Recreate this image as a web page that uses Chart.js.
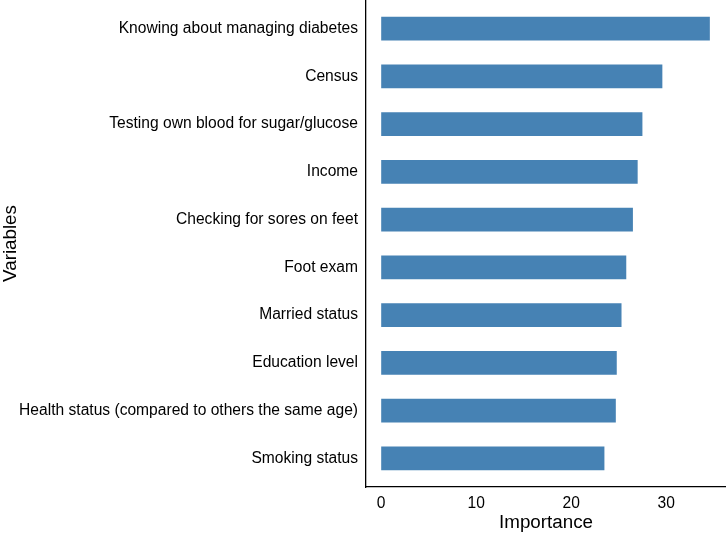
<!DOCTYPE html>
<html>
<head>
<meta charset="utf-8">
<script src="https://cdn.jsdelivr.net/npm/chart.js@4.4.1/dist/chart.umd.min.js"></script>
<style>
  html, body { margin: 0; padding: 0; background: #fff; }
  #chart { display: block; }
</style>
</head>
<body>
<canvas id="chart" width="726" height="534"></canvas>
<script>
const variables = [
    'Knowing about managing diabetes',
    'Census',
    'Testing own blood for sugar/glucose',
    'Income',
    'Checking for sores on feet',
    'Foot exam',
    'Married status',
    'Education level',
    'Health status (compared to others the same age)',
    'Smoking status'
];
const importance = [34.6, 29.6, 27.5, 27.0, 26.5, 25.8, 25.3, 24.8, 24.7, 23.5];
const xTicks = [0, 10, 20, 30];

const font = 'Liberation Sans, Arial, sans-serif';

// bars sit on a numeric index axis so the ends get the same padding as ggplot
const points = importance.map((v, i) => ({ x: v, y: i }));

new Chart(document.getElementById('chart'), {
    type: 'bar',
    data: {
        datasets: [{
            data: points,
            backgroundColor: '#4682B4',
            borderWidth: 0,
            categoryPercentage: 1,
            barPercentage: 0.5
        }]
    },
    options: {
        indexAxis: 'y',
        responsive: false,
        animation: false,
        layout: { padding: 0 },
        plugins: { legend: { display: false }, tooltip: { enabled: false } },
        scales: {
            x: {
                type: 'linear',
                min: -1.6,
                max: 36.3,
                afterBuildTicks: (scale) => { scale.ticks = xTicks.map(v => ({ value: v })); },
                afterFit: (scale) => {
                    scale.height = 47;
                    scale.paddingLeft = 0;
                    scale.paddingRight = 0;
                },
                grid: { display: false, drawTicks: false },
                border: { display: true, color: '#000', width: 1.3 },
                ticks: { color: '#000', font: { family: font, size: 15.6 }, padding: 7 },
                title: { display: true, text: 'Importance', color: '#000', font: { family: font, size: 18.8 }, padding: { top: 0, bottom: 0 } }
            },
            y: {
                type: 'linear',
                offset: false,
                min: -0.6,
                max: variables.length - 0.4,
                reverse: true,
                afterBuildTicks: (scale) => { scale.ticks = variables.map((_, i) => ({ value: i })); },
                afterFit: (scale) => {
                    scale.width = 366;
                    scale.paddingTop = 0;
                    scale.paddingBottom = 0;
                },
                grid: { display: false, drawTicks: false },
                border: { display: true, color: '#000', width: 1.3 },
                ticks: {
                    color: '#000',
                    font: { family: font, size: 15.6 },
                    padding: 8,
                    callback: (value) => variables[value]
                },
                title: { display: true, text: 'Variables', color: '#000', font: { family: font, size: 18.8 }, padding: { top: 0, bottom: 0 } }
            }
        }
    }
});
</script>
</body>
</html>
